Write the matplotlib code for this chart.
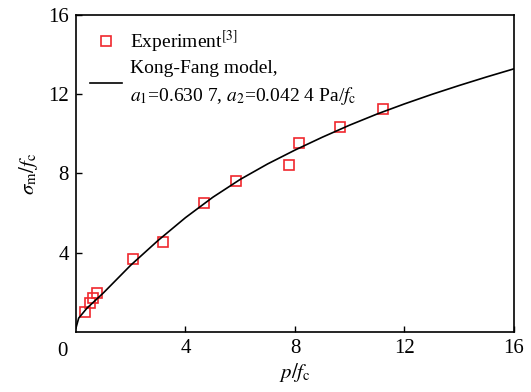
import numpy as np
import matplotlib
matplotlib.use("Agg")
import matplotlib.pyplot as plt

plt.rcParams['font.family'] = ['Liberation Serif', 'DejaVu Serif']
plt.rcParams['mathtext.fontset'] = 'stix'

# experiment points
p_exp = [0.34, 0.53, 0.62, 0.78, 2.07, 3.19, 4.66, 5.86, 7.79, 8.16, 9.66, 11.22]
s_exp = [1.00, 1.45, 1.70, 1.97, 3.66, 4.56, 6.52, 7.64, 8.44, 9.56, 10.34, 11.26]

# Kong-Fang model curve
p_mod = [0, 0.1, 0.4, 1, 2, 3, 4, 5, 6, 7, 8, 9, 10, 11, 12, 13, 14, 15, 16]
s_mod = [0.2, 0.7, 1.2, 1.97, 3.37, 4.62, 5.77, 6.8, 7.7, 8.48, 9.18, 9.83,
         10.44, 11.0, 11.51, 11.99, 12.44, 12.87, 13.28]

ticks = [4, 8, 12, 16]

fig = plt.figure(figsize=(5.31, 3.92), dpi=100)
ax = fig.add_axes([0.143, 0.153, 0.825, 0.809])

ax.plot(p_exp, s_exp, ls='none', marker='s', ms=6.5, mfc='none', mec='#f0282d',
        mew=1.2, label=r'Experiment$^{[3]}$')
ax.plot(p_mod, s_mod, color='black', lw=1.2,
        label='Kong-Fang model,\n$a_1$=0.630 7, $a_2$=0.042 4 Pa/$f_\\mathrm{c}$')

ax.set_xlim(0, 16)
ax.set_ylim(0, 16)
ax.set_xticks(ticks)
ax.set_yticks(ticks)
ax.tick_params(direction='in', labelsize=15, length=4, width=1, pad=5)
ax.text(-0.03, -0.03, '0', transform=ax.transAxes, fontsize=15, ha='center', va='top')

ax.set_xlabel(r'$p/f_\mathrm{c}$', fontsize=15, labelpad=2)
ax.set_ylabel(r'$\sigma_\mathrm{m}/f_\mathrm{c}$', fontsize=15, labelpad=6)

for s in ax.spines.values():
    s.set_linewidth(1.2)

leg = ax.legend(loc='upper left', frameon=False, fontsize=14, handlelength=1.65,
                handletextpad=0.45, borderaxespad=0.4, borderpad=0.3, labelspacing=0.3)
leg.get_texts()[1].set_linespacing(1.45)

fig.savefig('out.png', dpi=100)
